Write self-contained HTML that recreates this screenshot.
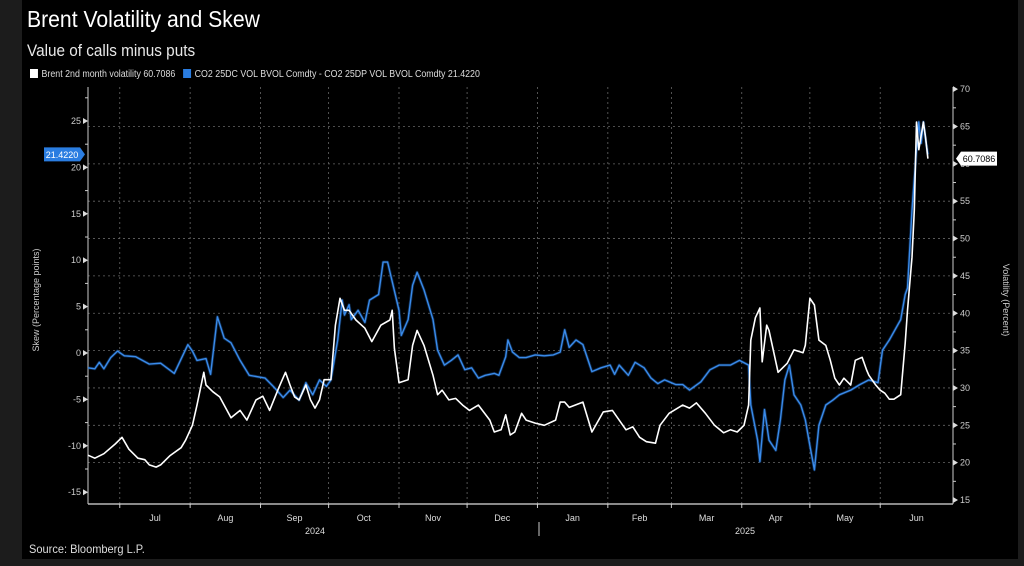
<!DOCTYPE html>
<html><head><meta charset="utf-8">
<style>
html,body{margin:0;padding:0;background:#1c1c1c;width:1024px;height:566px;overflow:hidden;font-family:"Liberation Sans","DejaVu Sans",sans-serif;}
#frame{position:absolute;left:22px;top:0;width:996px;height:559px;background:#000;}
.t{position:absolute;color:#fff;white-space:nowrap;transform-origin:0 0;}
</style></head><body>
<div id="frame"></div>
<div class="t" style="left:27px;top:6px;font-size:23px;transform:scaleX(0.92);">Brent Volatility and Skew</div>
<div class="t" style="left:27px;top:41px;font-size:17px;color:#e8e8e8;transform:scaleX(0.9);">Value of calls minus puts</div>
<div class="t" style="left:30px;top:69px;font-size:10px;color:#ddd;transform:scaleX(0.885);">
 <span><span style="display:inline-block;width:9px;height:9px;background:#fff;vertical-align:-1px;margin-right:4px"></span>Brent 2nd month volatility 60.7086</span>
 <span style="margin-left:6px"><span style="display:inline-block;width:9px;height:9px;background:#2a7de1;vertical-align:-1px;margin-right:4px"></span>CO2 25DC VOL BVOL Comdty - CO2 25DP VOL BVOL Comdty 21.4220</span>
</div>
<div class="t" style="left:29px;top:542px;font-size:12px;color:#ddd;transform:scaleX(0.92);">Source: Bloomberg L.P.</div>
<svg id="chart" width="1024" height="566" style="position:absolute;left:0;top:0" xmlns="http://www.w3.org/2000/svg"></svg>
<script>
const blueDays=[0,3,5,7,10,13,16,21,27,32,38,44,46,48,52,54,57,60,63,67,71,78,82,86,89,93,96,99,102,105,107,110,112,113,115,116,119,122,124,128,130,132,134,137,138,141,143,145,148,152,154,157,160,163,166,169,172,175,179,181,184,185,187,190,193,197,201,205,208,210,212,215,218,222,226,230,232,234,238,241,245,248,251,254,259,262,265,270,274,278,283,287,291,292,295,296,298,300,303,305,307,309,311,314,316,318,320,322,325,328,331,336,340,344,348,350,353,358,360,361,363,365,366,367,368,369,370];
const blueSkew=[-1.6,-1.7,-1.0,-1.7,-0.5,0.2,-0.3,-0.4,-1.2,-1.1,-2.2,0.9,0.2,-0.8,-0.6,-2.3,3.9,1.6,1.1,-0.8,-2.4,-2.7,-3.7,-4.8,-4.0,-5.1,-3.2,-4.5,-2.9,-3.6,-2.9,1.4,5.7,4.1,5.2,3.6,4.6,3.3,5.7,6.3,9.8,9.8,7.7,4.6,1.9,3.6,7.3,8.7,6.8,3.6,0.3,-1.3,-0.8,-0.2,-1.8,-1.6,-2.7,-2.4,-2.2,-2.4,-0.4,1.4,0.1,-0.5,-0.5,-0.2,-0.3,-0.2,0.1,2.5,0.6,1.4,0.9,-2.0,-1.6,-1.3,-2.3,-1.3,-2.4,-1.0,-1.6,-2.7,-3.3,-2.9,-3.4,-3.4,-4.0,-3.1,-1.8,-1.3,-1.3,-0.8,-1.3,-5.6,-9.4,-11.7,-6.1,-9.4,-10.5,-7.2,-2.9,-1.3,-4.5,-5.6,-7.2,-10.0,-12.6,-7.8,-5.6,-5.1,-4.5,-4.0,-3.4,-2.9,-3.2,0.3,1.4,3.6,6.3,7.0,15.4,21.9,24.9,22.6,24.9,23.0,21.4];
const whiteDays=[0,3,7,12,15,18,22,25,27,30,32,36,41,43,46,48,51,52,55,58,63,67,70,74,77,80,84,87,89,91,93,96,98,100,102,104,107,109,111,113,115,118,122,125,129,133,134,135,137,141,143,145,148,152,154,156,159,162,165,168,172,177,179,182,184,186,188,191,193,197,201,206,208,210,212,218,222,227,231,237,240,243,246,250,252,256,262,265,268,272,276,280,283,286,289,291,292,294,296,297,299,300,304,308,311,315,316,318,320,322,325,327,329,331,333,336,338,341,343,344,347,349,351,353,355,358,360,361,363,364,365,366,368,369,370];
const whiteVol=[21.0,20.6,21.2,22.5,23.4,21.8,20.6,20.4,19.7,19.4,19.7,20.9,22.0,23.0,25.0,27.7,32.1,30.4,29.5,28.8,26.0,27.0,25.7,28.4,28.9,27.0,30.0,32.1,30.4,28.8,28.4,30.4,28.4,27.3,28.4,31.1,31.1,38.4,42.0,40.4,40.4,39.1,38.0,36.2,38.4,39.1,40.4,35.3,30.7,31.1,35.7,37.7,35.7,31.7,29.1,29.7,28.4,28.6,27.7,27.0,27.7,25.7,24.1,24.4,26.4,23.7,24.1,26.6,25.7,25.3,25.0,25.7,28.1,28.1,27.4,28.1,24.1,26.8,27.0,24.4,24.8,23.4,22.8,22.6,25.0,26.6,27.7,27.3,28.0,26.6,25.0,24.0,24.4,24.1,25.0,27.7,36.4,39.4,40.7,33.5,38.4,37.7,32.1,33.3,35.1,34.7,35.7,42.0,41.1,36.4,35.7,33.7,31.3,30.4,31.3,30.4,33.7,34.1,32.4,31.7,30.4,29.7,29.3,28.5,28.5,29.1,36.0,40.4,47.5,53.8,65.6,61.9,65.6,63.5,60.7];
const skewTicks=[-15,-10,-5,0,5,10,15,20,25];
const volTicks=[15,20,25,30,35,40,45,50,55,60,65,70];
const monthLabels=["Jul","Aug","Sep","Oct","Nov","Dec","Jan","Feb","Mar","Apr","May","Jun"];
const monthStartDays=[14,45,76,106,137,167,198,229,257,288,318,349];
const lastSkew="21.4220", lastVol="60.7086";

const X0=88,X1=953,PY0=87,PY1=504;
const xs=d=>X0+d*2.27;
const yL=v=>353-v*9.28;
const yR=v=>500-(v-15)*7.47;
const svg=document.getElementById('chart');
const NS="http://www.w3.org/2000/svg";
function mk(tag,attrs){const e=document.createElementNS(NS,tag);for(const k in attrs)e.setAttribute(k,attrs[k]);svg.appendChild(e);return e;}

volTicks.forEach(v=>{if(v<=15||v>=70)return;
 const g=mk('line',{x1:X0,x2:X1,y1:yR(v),y2:yR(v),stroke:'#666','stroke-dasharray':'2,3','stroke-width':0.8});
 
 });
monthStartDays.forEach((d,i)=>{
 const x=xs(d);
 const g=mk('line',{x1:x,x2:x,y1:PY0,y2:PY1,stroke:'#666','stroke-dasharray':'2,3','stroke-width':0.8});
 
 
 mk('line',{x1:x,x2:x,y1:PY1,y2:PY1+4,stroke:'#ccc'});
 const nd=i<11?monthStartDays[i+1]:381;
 const t=mk('text',{x:xs((d+nd)/2),y:521,fill:'#ddd','font-size':9,'text-anchor':'middle'});
 t.textContent=monthLabels[i];
 
 
});
[['2024',315],['2025',745]].forEach(([s,x])=>{const t=mk('text',{x:x,y:534,fill:'#ddd','font-size':9,'text-anchor':'middle'});t.textContent=s;
 
 });
mk('line',{x1:539,x2:539,y1:522,y2:536,stroke:'#ccc'});
const ax=mk('line',{x1:X0,x2:X1,y1:PY1,y2:PY1,stroke:'#ddd','stroke-width':1.2});


const la=mk('line',{x1:X0,x2:X0,y1:PY0,y2:PY1,stroke:'#ccc'});


const ra=mk('line',{x1:X1,x2:X1,y1:PY0,y2:PY1,stroke:'#ccc'});


skewTicks.forEach(v=>{const y=yL(v);
 mk('path',{d:`M${X0-5},${y-3}L${X0},${y}L${X0-5},${y+3}Z`,fill:'#ddd'});
 mk('line',{x1:X0-3,x2:X0,y1:yL(v+2.5),y2:yL(v+2.5),stroke:'#ccc'});
 const t=mk('text',{x:X0-7,y:y+3,fill:'#ccc','font-size':9,'text-anchor':'end'});t.textContent=v;
 
 });
volTicks.forEach(v=>{const y=yR(v);
 mk('path',{d:`M${X1},${y-3}L${X1+5},${y}L${X1},${y+3}Z`,fill:'#ddd'});
 if(v<70)mk('line',{x1:X1,x2:X1+3,y1:yR(v+2.5),y2:yR(v+2.5),stroke:'#ccc'});
 const t=mk('text',{x:X1+7,y:y+3,fill:'#ccc','font-size':9});t.textContent=v;
 
 });
const lt=mk('text',{x:0,y:0,fill:'#ccc','font-size':9,'text-anchor':'middle',transform:'translate(39,300) rotate(-90)'});
lt.textContent='Skew (Percentage points)';


const rt=mk('text',{x:0,y:0,fill:'#ccc','font-size':9,'text-anchor':'middle',transform:'translate(1003,300) rotate(90)'});
rt.textContent='Volatility (Percent)';


const bp=blueDays.map((d,i)=>xs(d).toFixed(1)+','+yL(blueSkew[i]).toFixed(1)).join(' ');
mk('polyline',{points:bp,fill:'none',stroke:'#1f5fb0','stroke-width':3,'stroke-opacity':0.4,'stroke-linejoin':'round'});
const bl=mk('polyline',{points:bp,fill:'none',stroke:'#3a8bea','stroke-width':1.4,'stroke-linejoin':'round'});


const wp=whiteDays.map((d,i)=>xs(d).toFixed(1)+','+yR(whiteVol[i]).toFixed(1)).join(' ');
const wl=mk('polyline',{points:wp,fill:'none',stroke:'#fff','stroke-width':1.6,'stroke-linejoin':'round'});


const by=yL(blueSkew[blueSkew.length-1]);
const bb=mk('path',{d:`M44,${by-7}L80,${by-7}L85,${by}L80,${by+7}L44,${by+7}Z`,fill:'#2a7de1'});


const bt=mk('text',{x:62,y:by+3.5,fill:'#fff','font-size':9,'text-anchor':'middle'});bt.textContent=lastSkew;
const wy=yR(whiteVol[whiteVol.length-1]);
const wb=mk('path',{d:`M956,${wy}L961,${wy-7}L997,${wy-7}L997,${wy+7}L961,${wy+7}Z`,fill:'#fff'});


const wt=mk('text',{x:979,y:wy+3.5,fill:'#000','font-size':9,'text-anchor':'middle'});wt.textContent=lastVol;
</script>
</body></html>
